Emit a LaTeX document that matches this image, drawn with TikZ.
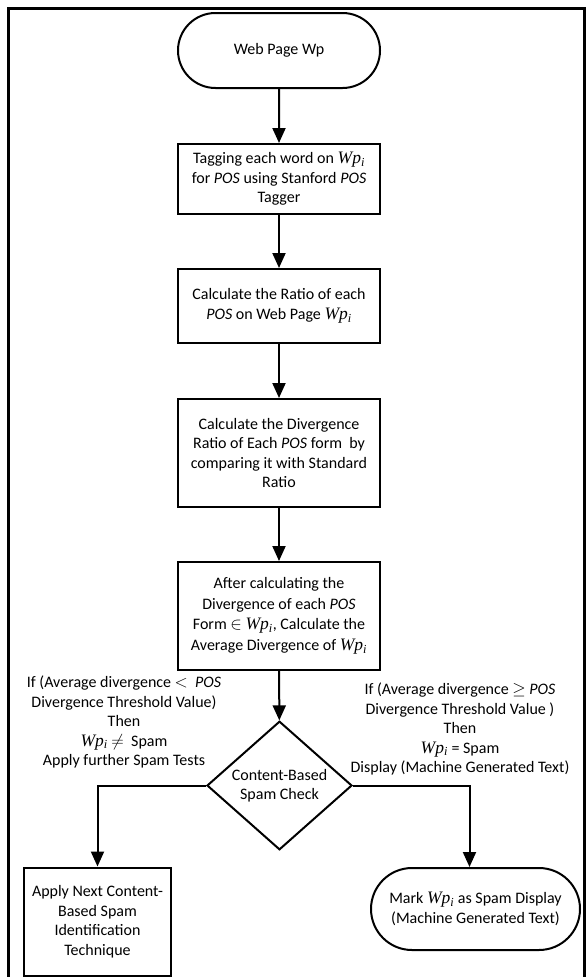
\documentclass[tikz,border=0pt]{standalone}
\usepackage{fontspec}
\setmainfont{Carlito}
\newfontfamily\serifmath{Liberation Serif}
\usetikzlibrary{shapes.geometric,shapes.misc,arrows.meta}
% page variable W p with subscript i, set in a serif italic
\newcommand{\Wpi}{{\serifmath\itshape\fontsize{17.5}{19.5}\selectfont Wp\textsubscript{i}}}
\newcommand{\pos}{\textit{POS}}
\begin{document}
\begin{tikzpicture}[x=1pt,y=-1pt,
  every node/.style={font=\fontsize{16}{19.5}\selectfont, align=center},
  stepbox/.style={draw, line width=2pt, rectangle, minimum width=202pt, inner sep=0pt},
  termbox/.style={draw, line width=2pt, rounded rectangle, inner sep=0pt},
  decision/.style={draw, line width=2pt, diamond, inner sep=0pt, minimum width=145pt, minimum height=109pt},
  flow/.style={line width=2pt, -{Triangle[width=13pt,length=15pt]}},
  lbl/.style={inner sep=0pt}]
\useasboundingbox (0,0) rectangle (586,977);
% outer frame (open at the bottom)
\draw[line width=3pt] (8.5,977) -- (8.5,8.5) -- (584.5,8.5) -- (584.5,977);

\node[termbox, minimum width=202pt, minimum height=75pt] (t1) at (279,50.5) {Web Page Wp};
\node[stepbox, minimum height=70pt] (b1) at (279,179)
  {Tagging each word on \Wpi\\ for \pos{} using Stanford \pos\\ Tagger};
\node[stepbox, minimum height=74pt] (b2) at (279,306)
  {Calculate the Ratio of each\\ \pos{} on Web Page \Wpi};
\node[stepbox, minimum height=108pt] (b3) at (279,453)
  {Calculate the Divergence\\ Ratio of Each \pos{} form\ \ by\\ comparing it with Standard\\ Ratio};
\node[stepbox, minimum height=108pt, font=\fontsize{16}{20.5}\selectfont] (b4) at (279,616)
  {After calculating the\\ Divergence of each \pos\\ Form $\in$ \Wpi, Calculate the\\ Average Divergence of \Wpi};
\node[decision] (d) at (279.5,785.5) {Content-Based\\ Spam Check};
\node[stepbox, minimum width=147pt, minimum height=108pt] (b5) at (97.5,921.5)
  {Apply Next Content-\\ Based Spam\\ Identification\\ Technique};
\node[termbox, minimum width=209pt, minimum height=82pt] (t2) at (475.5,909)
  {Mark \Wpi{} as Spam Display\\ (Machine Generated Text)};

% branch conditions
\node[lbl] (cl) at (124,722)
  {If (Average divergence $<$\ \ \pos\\ Divergence Threshold Value)\\ Then\\ \Wpi{} $\neq$\ \ Spam\\ Apply further Spam Tests};
\node[lbl] (cr) at (460,729)
  {If (Average divergence $\geq$ \pos\\ Divergence Threshold Value )\\ Then\\ \Wpi{} = Spam\\ Display (Machine Generated Text)};

% connectors
\draw[flow] (t1) -- (b1);
\draw[flow] (b1) -- (b2);
\draw[flow] (b2) -- (b3);
\draw[flow] (b3) -- (b4);
\draw[flow] (b4) -- (d);
\draw[flow] (d.west) -| (b5.north);
\draw[flow] (d.east) -| ([xshift=-6pt]t2.north);
\end{tikzpicture}
\end{document}
